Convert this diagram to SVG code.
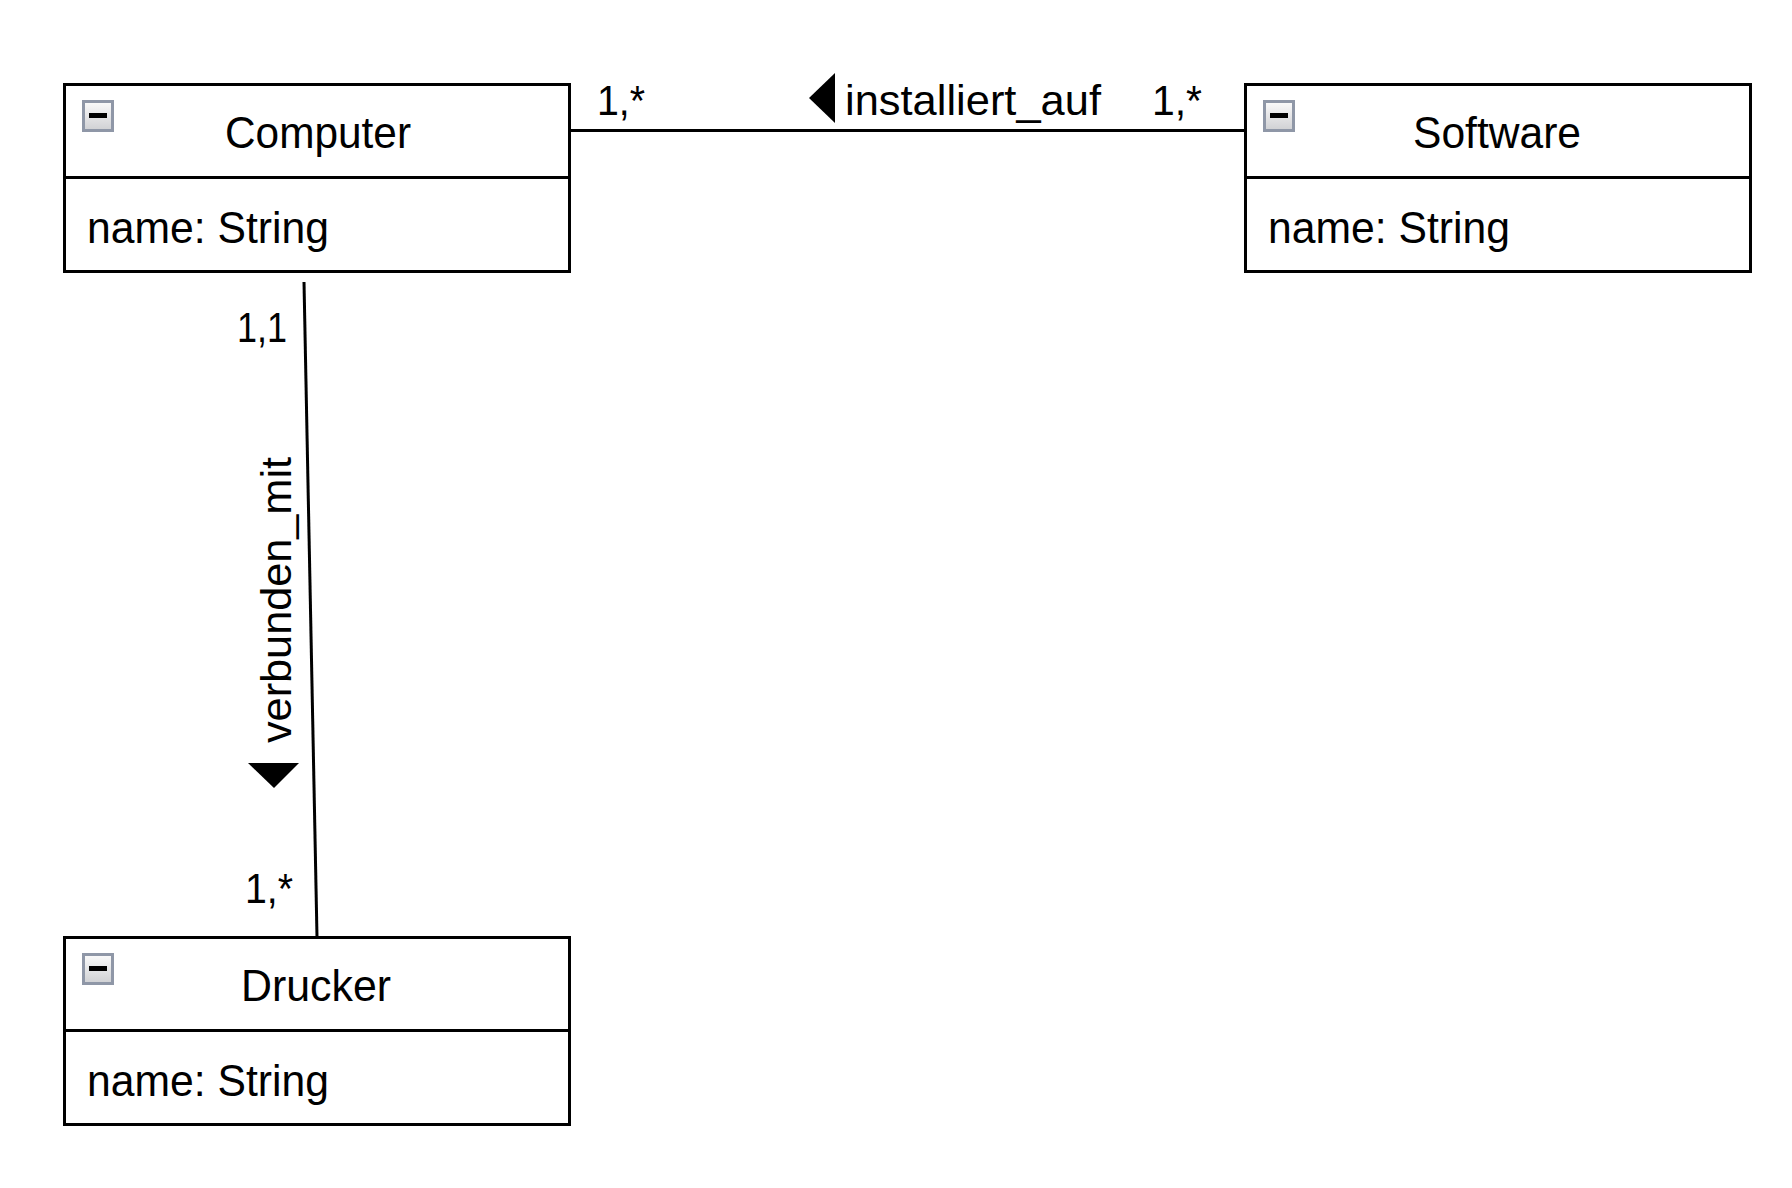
<svg xmlns="http://www.w3.org/2000/svg" width="1792" height="1188" viewBox="0 0 1792 1188">
  <defs>
    <linearGradient id="iconGrad" x1="0" y1="0" x2="0" y2="1">
      <stop offset="0" stop-color="#fbfbfb"/>
      <stop offset="1" stop-color="#cfd0d3"/>
    </linearGradient>
    <g id="minusIcon">
      <rect x="1.5" y="1.5" width="29" height="29" fill="url(#iconGrad)" stroke="#8f97a7" stroke-width="3"/>
      <rect x="7" y="13" width="18" height="5" fill="#000"/>
    </g>
  </defs>
  <style>
    .box { fill: #fff; stroke: #000; stroke-width: 3; }
    .div { stroke: #000; stroke-width: 3; }
    .t { font-family: "Liberation Sans", Arial, Helvetica, sans-serif; font-size: 42px; fill: #000; }
    .n { font-size: 44px; }
    .mid { text-anchor: middle; }
    .conn { stroke: #000; stroke-width: 3; fill: none; }
  </style>
  <rect width="1792" height="1188" fill="#fff"/>

  <g id="connectors">
    <line class="conn" x1="570" y1="130.5" x2="1245" y2="130.5"/>
    <line class="conn" x1="304" y1="282" x2="317" y2="937"/>
    <polygon points="835,73 835,123 809,98" fill="#000"/>
    <polygon points="248,763 299,763 274,788" fill="#000"/>
    <text class="t" x="597" y="115" textLength="48" lengthAdjust="spacingAndGlyphs">1,*</text>
    <text class="t" x="845" y="115" textLength="256" lengthAdjust="spacingAndGlyphs">installiert_auf</text>
    <text class="t" x="1152" y="115" textLength="50" lengthAdjust="spacingAndGlyphs">1,*</text>
    <text class="t" x="237" y="342" textLength="50" lengthAdjust="spacingAndGlyphs">1,1</text>
    <text class="t" x="245" y="903" textLength="48" lengthAdjust="spacingAndGlyphs">1,*</text>
    <text class="t mid" transform="translate(291,600) rotate(-90)" x="0" y="0" textLength="286" lengthAdjust="spacingAndGlyphs">verbunden_mit</text>
  </g>

  <g id="computer">
    <rect class="box" x="64.5" y="84.5" width="505" height="187"/>
    <line class="div" x1="64.5" y1="177.5" x2="569.5" y2="177.5"/>
    <use href="#minusIcon" x="82" y="100"/>
    <text class="t n mid" x="318" y="148" textLength="186" lengthAdjust="spacingAndGlyphs">Computer</text>
    <text class="t n" x="87" y="243" textLength="242" lengthAdjust="spacingAndGlyphs">name: String</text>
  </g>

  <g id="software">
    <rect class="box" x="1245.5" y="84.5" width="505" height="187"/>
    <line class="div" x1="1245.5" y1="177.5" x2="1750.5" y2="177.5"/>
    <use href="#minusIcon" x="1263" y="100"/>
    <text class="t n mid" x="1497" y="148" textLength="168" lengthAdjust="spacingAndGlyphs">Software</text>
    <text class="t n" x="1268" y="243" textLength="242" lengthAdjust="spacingAndGlyphs">name: String</text>
  </g>

  <g id="drucker">
    <rect class="box" x="64.5" y="937.5" width="505" height="187"/>
    <line class="div" x1="64.5" y1="1030.5" x2="569.5" y2="1030.5"/>
    <use href="#minusIcon" x="82" y="953"/>
    <text class="t n mid" x="316" y="1001" textLength="150" lengthAdjust="spacingAndGlyphs">Drucker</text>
    <text class="t n" x="87" y="1096" textLength="242" lengthAdjust="spacingAndGlyphs">name: String</text>
  </g>
</svg>
